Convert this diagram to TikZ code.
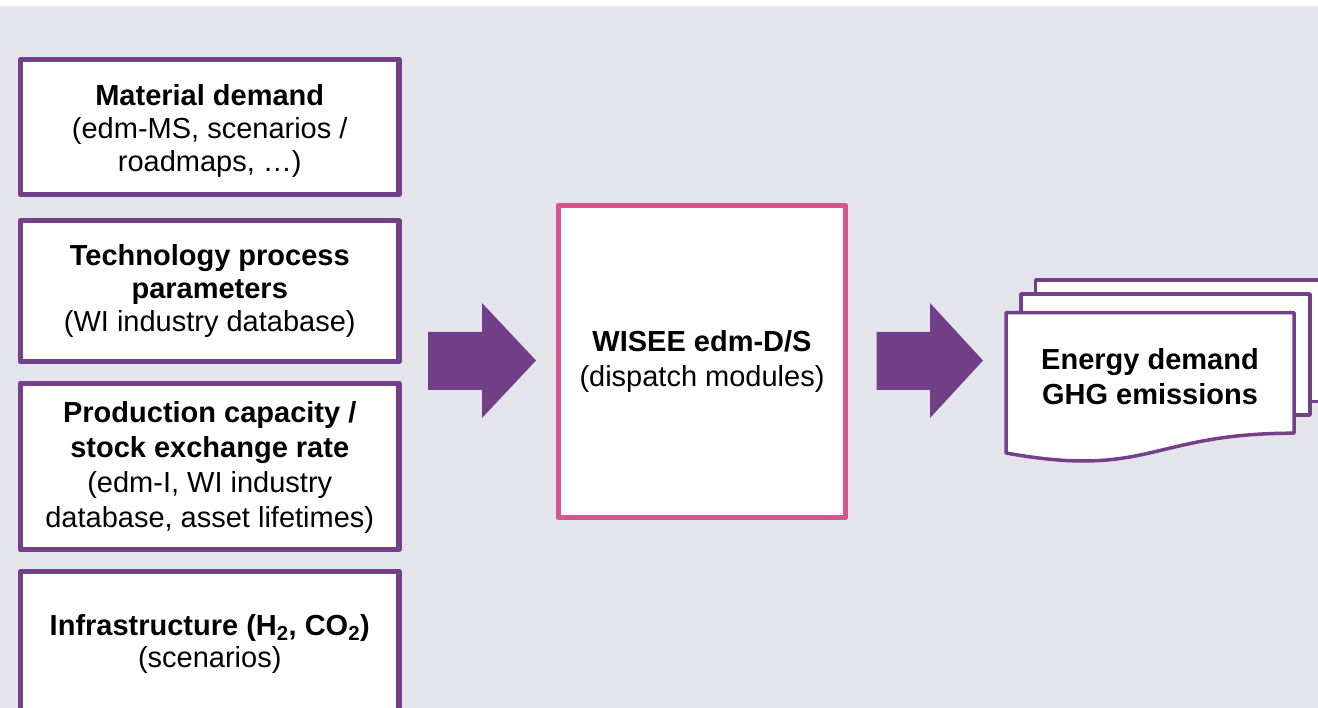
\documentclass[tikz,border=0pt]{standalone}
\usepackage{fontspec}
\usetikzlibrary{calc}
\setmainfont{Liberation Sans}
\definecolor{bg}{HTML}{E4E5EA}
\definecolor{purp}{HTML}{74408A}
\definecolor{arrowc}{HTML}{733E88}
\definecolor{pinkc}{HTML}{D4558F}
\begin{document}
\begin{tikzpicture}[x=1pt,y=-1pt,
  inbox/.style={draw=purp, line width=5.5pt, fill=white, line join=round,
    minimum width=378.5pt, inner sep=0pt},
  boxtext/.style={align=center, inner sep=0pt, font=\fontsize{29}{34}\selectfont},
  centerbox/.style={draw=pinkc, line width=5pt, fill=white, line join=round,
    minimum width=287pt, minimum height=312pt, inner sep=0pt, align=center,
    font=\fontsize{29}{35}\selectfont},
  pagesheet/.style={draw=purp, line width=3.5pt, fill=white, line join=round},
  pagetext/.style={align=center, inner sep=0pt, font=\fontsize{29}{35}\selectfont\bfseries},
  blockarrow/.style={fill=arrowc}]
\useasboundingbox (0,0) rectangle (1318,708);
\clip (0,0) rectangle (1318,708);
\fill[white] (0,0) rectangle (1318,708);
\fill[bg] (0,6) rectangle (1318,708);

% input boxes
\node[inbox, minimum height=135pt] (material) at (209.75,127) {};
\node[boxtext, font=\fontsize{29}{33}\selectfont] (materialtext) at ($(material.center)+(0,4.5)$)
  {\textbf{Material demand}\\(edm-MS, scenarios /\\roadmaps, …)};
\node[inbox, minimum height=141pt] (techproc) at (209.75,291) {};
\node[boxtext, font=\fontsize{29}{33}\selectfont] (techproctext) at ($(techproc.center)+(0,0)$)
  {\textbf{Technology process}\\\textbf{parameters}\\(WI industry database)};
\node[inbox, minimum height=166pt] (prodcap) at (209.75,466.5) {};
\node[boxtext, font=\fontsize{29}{35}\selectfont] (prodcaptext) at ($(prodcap.center)+(0,1)$)
  {\textbf{Production capacity /}\\\textbf{stock exchange rate}\\(edm-I, WI industry\\database, asset lifetimes)};
\node[inbox, minimum height=144pt] (infra) at (209.75,643.5) {};
\node[boxtext, font=\fontsize{29}{32}\selectfont] (infratext) at ($(infra.center)+(0,0)$)
  {\textbf{Infrastructure (H\textsubscript{2}, CO\textsubscript{2})}\\(scenarios)};

% block arrows
\fill[blockarrow] (428,332) -- (482,332) -- (482,303) -- (536,360.5) -- (482,418) -- (482,390) -- (428,390) -- cycle;
\fill[blockarrow] (876.7,332) -- (930,332) -- (930,303) -- (983,360.5) -- (930,418) -- (930,390) -- (876.7,390) -- cycle;

% central model
\node[centerbox] (wisee) at (702,361.5)
  {\textbf{WISEE edm-D/S}\\(dispatch modules)};

% output documents
\filldraw[pagesheet] (1035.7,280) rectangle (1335,401.7);
\filldraw[pagesheet] (1021,294) rectangle (1310,415);
\filldraw[pagesheet] (1006,312.7) -- (1294,312.7) -- (1294,433.2)
  .. controls (1150,433.2) and (1150,479) .. (1006,453) -- cycle;
\node[pagetext] (output) at (1150,377) {Energy demand\\GHG emissions};
\end{tikzpicture}
\end{document}
